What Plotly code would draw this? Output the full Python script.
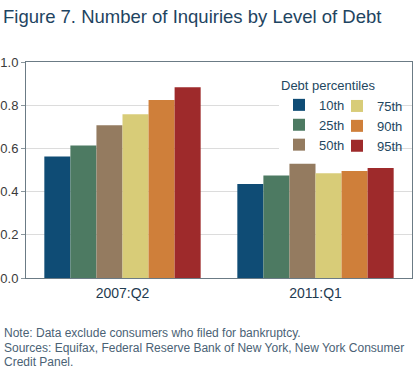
import plotly.graph_objects as go

periods = ["2007:Q2", "2011:Q1"]
percentiles = ["10th", "25th", "50th", "75th", "90th", "95th"]
values = {
    "10th": [0.562, 0.435],
    "25th": [0.614, 0.475],
    "50th": [0.707, 0.529],
    "75th": [0.758, 0.485],
    "90th": [0.824, 0.495],
    "95th": [0.883, 0.509],
}
colors = {
    "10th": "#0f4c75",
    "25th": "#4d7a62",
    "50th": "#947b60",
    "75th": "#d8cc78",
    "90th": "#cf7f3a",
    "95th": "#9e2a2b",
}
legend_of = {"10th": "legend", "25th": "legend", "50th": "legend",
             "75th": "legend2", "90th": "legend2", "95th": "legend2"}
y_ticks = [0.0, 0.2, 0.4, 0.6, 0.8, 1.0]
title_text = "Figure 7. Number of Inquiries by Level of Debt"
note_lines = [
    "Note: Data exclude consumers who filed for bankruptcy.",
    "Sources: Equifax, Federal Reserve Bank of New York, New York Consumer",
    "Credit Panel.",
]

FONT = "Arial, Liberation Sans, sans-serif"

fig = go.Figure()
for p in percentiles:
    fig.add_trace(go.Bar(
        x=periods, y=values[p], name=p,
        marker=dict(color=colors[p], line=dict(width=0)),
        legend=legend_of[p],
    ))

W, H = 420, 370
ml, mr, mt, mb = 26, 8, 62, 92
pw = W - ml - mr
ph = H - mt - mb

def px_x(px):
    return (px - ml) / pw

def px_y(py):
    return (H - mb - py) / ph

annotations = []
for i, line in enumerate(note_lines):
    annotations.append(dict(
        text=line, xref="paper", yref="paper",
        x=px_x(2), y=px_y(333 + i * 14.7),
        xanchor="left", yanchor="middle", showarrow=False,
        font=dict(family=FONT, size=12, color="#4a6275"),
    ))

fig.update_layout(
    template="none",
    width=W, height=H,
    margin=dict(l=ml, r=mr, t=mt, b=mb, autoexpand=False),
    paper_bgcolor="white", plot_bgcolor="white",
    barmode="group", bargap=0.19, bargroupgap=0,
    title=dict(text=title_text, x=3 / W, xanchor="left", xref="container",
               y=1 - 17 / H, yanchor="middle", yref="container",
               font=dict(family=FONT, size=18.5, color="#1e4461")),
    font=dict(family=FONT),
    legend=dict(
        title=dict(text="Debt percentiles", font=dict(family=FONT, size=13, color="#23475f")),
        font=dict(family=FONT, size=13, color="#23475f"),
        x=px_x(279), xanchor="left", y=px_y(73), yanchor="top",
        bgcolor="white", borderwidth=0, orientation="v",
    ),
    legend2=dict(
        font=dict(family=FONT, size=13, color="#23475f"),
        x=px_x(337), xanchor="left", y=px_y(91), yanchor="top",
        bgcolor="rgba(0,0,0,0)", borderwidth=0, orientation="v",
    ),
    xaxis=dict(
        automargin=False,
        showline=True, linecolor="#6b7b85", linewidth=1, mirror=True,
        ticks="", showgrid=False, zeroline=False,
        ticklabelstandoff=2,
        tickfont=dict(family=FONT, size=14, color="#1f3b50"),
    ),
    yaxis=dict(
        automargin=False,
        range=[0, 1.0], tickvals=y_ticks, ticktext=[f"{v:.1f}" for v in y_ticks],
        showline=True, linecolor="#6b7b85", linewidth=1, mirror=True,
        ticks="outside", ticklen=4, tickcolor="#8a969d",
        showgrid=True, gridcolor="#dcdcdc", gridwidth=1, zeroline=False,
        tickfont=dict(family=FONT, size=13, color="#3a3a3a"),
    ),
    annotations=annotations,
)

fig.write_html("out.html", config={"displayModeBar": False},
               post_script="document.body.style.margin='0';")
